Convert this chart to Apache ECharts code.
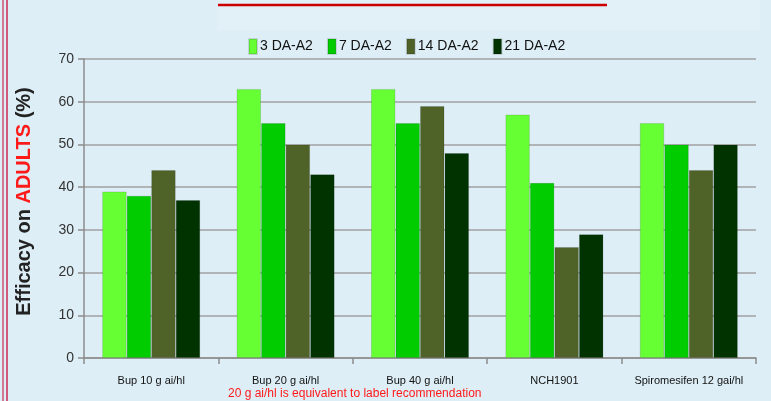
<!DOCTYPE html>
<html>
<head>
<meta charset="utf-8">
<script src="https://cdn.jsdelivr.net/npm/echarts@6/dist/echarts.min.js"></script>
<style>
html,body{margin:0;padding:0;background:#ddeef6;}
#c{width:771px;height:401px;}
</style>
</head>
<body>
<div id="c"></div>
<script>
const categories = ['Bup 10 g ai/hl', 'Bup 20 g ai/hl', 'Bup 40 g ai/hl', 'NCH1901', 'Spiromesifen 12 gai/hl'];
const seriesNames = ['3 DA-A2', '7 DA-A2', '14 DA-A2', '21 DA-A2'];
const da3 = [39, 63, 63, 57, 55];
const da7 = [38, 55, 55, 41, 50];
const da14 = [44, 50, 59, 26, 44];
const da21 = [37, 43, 48, 29, 50];
const yTicks = [0, 10, 20, 30, 40, 50, 60, 70];
const colors = ['#66ff33', '#00cc00', '#4f6228', '#003300'];
const values = [da3, da7, da14, da21];

const chart = echarts.init(document.getElementById('c'));
chart.setOption({
  backgroundColor: '#ddeef6',
  animation: false,
  color: colors,
  legend: {
    data: seriesNames,
    top: 33,
    left: 243,
    itemWidth: 8,
    itemHeight: 15,
    itemGap: 14,
    icon: 'rect',
    textStyle: {fontFamily: 'Liberation Sans, Arial', fontSize: 14, color: '#111', padding: [0, 0, 0, -2]}
  },
  grid: {left: 84, right: 15, top: 59, bottom: 43},
  xAxis: {
    type: 'category',
    data: categories,
    axisLine: {lineStyle: {color: '#8c8c8c', width: 1.5}},
    axisTick: {show: true, length: 6, lineStyle: {color: '#8c8c8c', width: 1.5}},
    axisLabel: {
      interval: 0,
      margin: 17,
      color: '#111',
      fontSize: 11,
      fontFamily: 'Liberation Sans, Arial'
    }
  },
  yAxis: {
    type: 'value',
    min: yTicks[0],
    max: yTicks[yTicks.length - 1],
    interval: 10,
    name: '{a|Efficacy on }{b|ADULTS}{a| (%)}',
    nameLocation: 'middle',
    nameRotate: 90,
    nameGap: 50,
    nameTextStyle: {
      padding: [0, 0, 0, 14],
      rich: {
        a: {fontFamily: 'Liberation Sans, Arial', fontSize: 20, fontWeight: 'bold', color: '#222'},
        b: {fontFamily: 'Liberation Sans, Arial', fontSize: 20, fontWeight: 'bold', color: '#ff1a1a'}
      }
    },
    axisLine: {show: true, lineStyle: {color: '#8c8c8c', width: 1.5}},
    axisTick: {show: true, length: 6, lineStyle: {color: '#8c8c8c', width: 1.5}},
    axisLabel: {margin: 10, color: '#333', fontSize: 14, fontFamily: 'Liberation Sans, Arial'},
    splitLine: {lineStyle: {color: '#a0a0a0', width: 1.5}}
  },
  series: seriesNames.map((n, i) => ({
    name: n,
    type: 'bar',
    data: values[i],
    barGap: '0%',
    barCategoryGap: '27%',
    itemStyle: {color: colors[i], borderColor: 'rgba(0,0,0,0.12)', borderWidth: 1}
  })),
  graphic: [
    {type: 'rect', shape: {x: 218, y: 0, width: 542, height: 30}, style: {fill: '#e2f0f7'}, z: -1},
    {type: 'line', shape: {x1: 218, y1: 5, x2: 607, y2: 5}, style: {stroke: '#cc0000', lineWidth: 2.5}},
    {type: 'line', shape: {x1: 3, y1: 0, x2: 3, y2: 401}, style: {stroke: '#cc2a55', lineWidth: 1.2}},
    {type: 'line', shape: {x1: 7, y1: 0, x2: 7, y2: 401}, style: {stroke: '#cc2a55', lineWidth: 1.5}},
    {type: 'text', left: 228, top: 388, style: {text: '20 g ai/hl is equivalent to label recommendation', fill: '#ff1a1a', fontSize: 12, fontFamily: 'Liberation Sans, Arial'}}
  ]
});
</script>
</body>
</html>
